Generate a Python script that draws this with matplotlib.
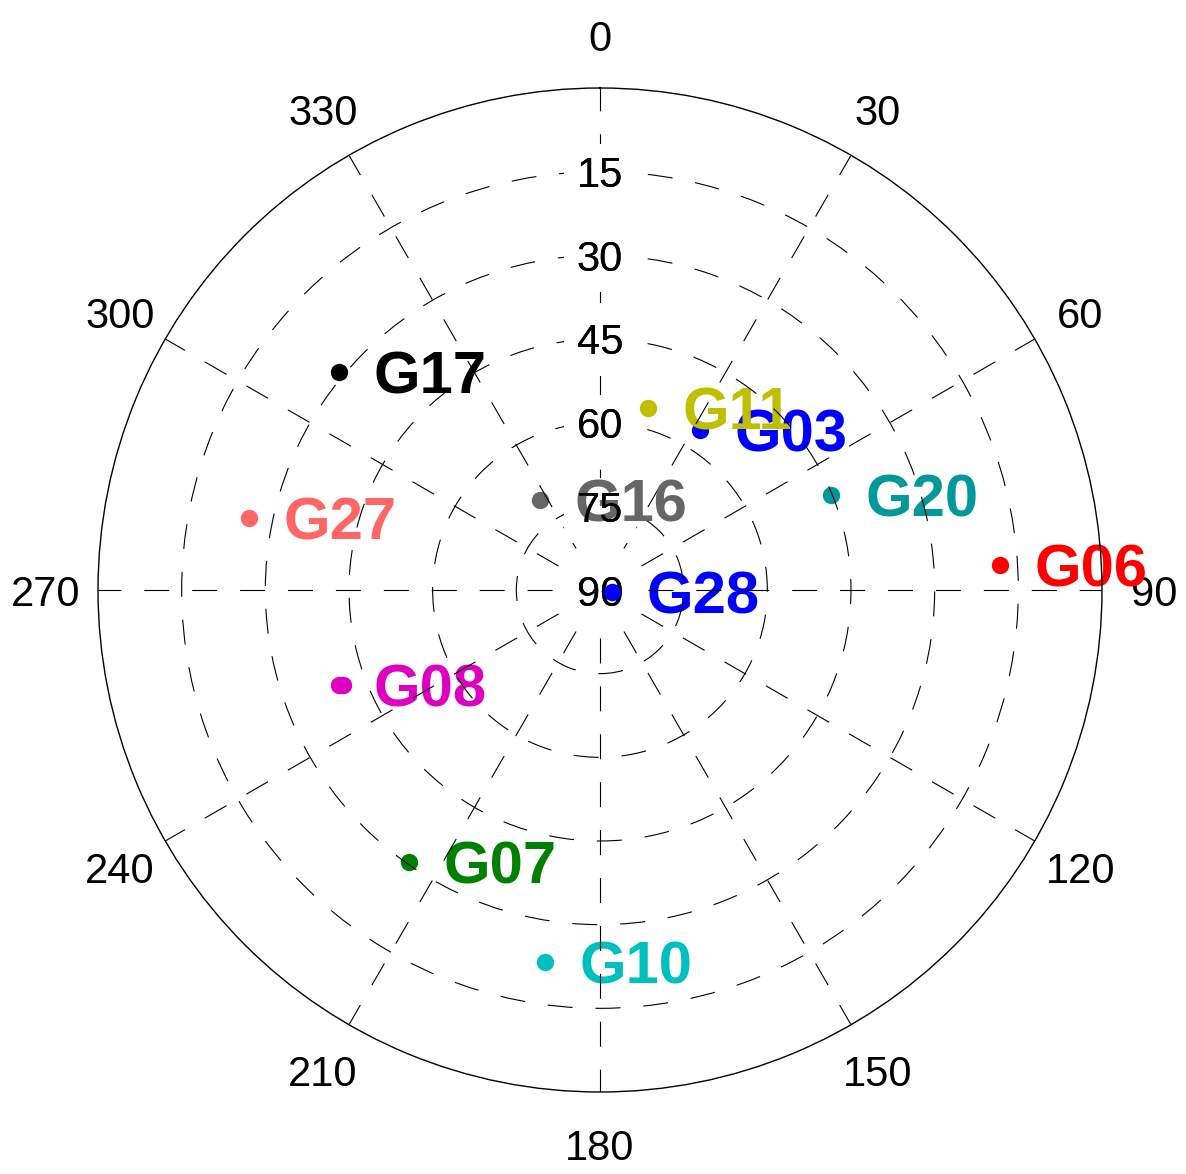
import numpy as np
import matplotlib
matplotlib.use("Agg")
import matplotlib.pyplot as plt

plt.rcParams['font.family'] = ['Liberation Sans', 'DejaVu Sans']
plt.rcParams['lines.scale_dashes'] = False

# Satellite data: PRN, azimuth (deg, clockwise from north), elevation (deg)
prns = ['G28', 'G06', 'G03', 'G11', 'G20', 'G17', 'G27', 'G08', 'G07', 'G10', 'G16']
azimuths = [98.3, 86.4, 32.0, 14.8, 67.6, 309.9, 281.6, 250.0, 215.1, 188.4, 326.3]
elevations = [87.9, 18.1, 56.2, 56.3, 45.2, 29.0, 25.8, 40.2, 30.4, 22.6, 70.6]
colors = ['#0000FF', '#FF0000', '#0000FF', '#BFBF00', '#009999', '#000000',
          '#FF6666', '#DD00C0', '#008000', '#00BFBF', '#666666']

# extra sample for G08 (track of two epochs)
extra_prn = ['G08']
extra_az = [249.7]
extra_el = [40.9]

ring_elev = [15, 30, 45, 60, 75, 90]
spoke_az = list(range(0, 360, 30))

W, H = 1186, 1174
fig = plt.figure(figsize=(W / 100, H / 100), dpi=100)
cx, cy, R = 600, 590, 502
ax = fig.add_axes([(cx - R) / W, (H - cy - R) / H, 2 * R / W, 2 * R / H], projection='polar')
ax.set_theta_zero_location('N')
ax.set_theta_direction(-1)
ax.set_rlim(0, 90)

dash = (0, (18, 16.5))
ax.set_thetagrids(spoke_az, labels=[''] * len(spoke_az))
ax.set_rgrids([90 - e for e in ring_elev[:-1]], labels=[''] * (len(ring_elev) - 1))
ax.grid(True, color='black', linestyle=dash, linewidth=0.8)
ax.tick_params(length=0)
ax.xaxis.set_zorder(2.2)
ax.yaxis.set_zorder(2.2)
ax.spines['polar'].set_color('black')
ax.spines['polar'].set_linewidth(1.0)

# azimuth labels
for a in spoke_az:
    ax.text(np.deg2rad(a), 99.4, str(a), ha='center', va='center_baseline',
            fontsize=30, color='black', clip_on=False, zorder=1)

# elevation ring labels with white box, glyphs redrawn on top
for e in ring_elev:
    ax.text(0, 90 - e, str(e), ha='center', va='center_baseline', fontsize=30,
            color='black', zorder=2.3,
            bbox=dict(boxstyle='square,pad=0.3', facecolor='white', edgecolor='none'))
    ax.text(0, 90 - e, str(e), ha='center', va='center_baseline', fontsize=30,
            color='black', zorder=2.4)

# satellites
for name, az, el, c in zip(prns, azimuths, elevations, colors):
    mz = 2.6 if name == 'G28' else 1.9
    tz = 2.35 if name == 'G16' else (2.05 if name == 'G11' else 2.0)
    ax.plot([np.deg2rad(az)], [90 - el], 'o', color=c, markersize=12.5,
            markeredgewidth=0, zorder=mz)
    ax.annotate(name, xy=(np.deg2rad(az), 90 - el), xytext=(25, -15.5),
                textcoords='offset points', ha='left', va='baseline',
                fontsize=43, fontweight='bold', color=c, zorder=tz,
                annotation_clip=False)

for name, az, el in zip(extra_prn, extra_az, extra_el):
    c = colors[prns.index(name)]
    ax.plot([np.deg2rad(az)], [90 - el], 'o', color=c, markersize=12.5,
            markeredgewidth=0, zorder=1.9)

fig.savefig('out.png', dpi=100, facecolor='white')
